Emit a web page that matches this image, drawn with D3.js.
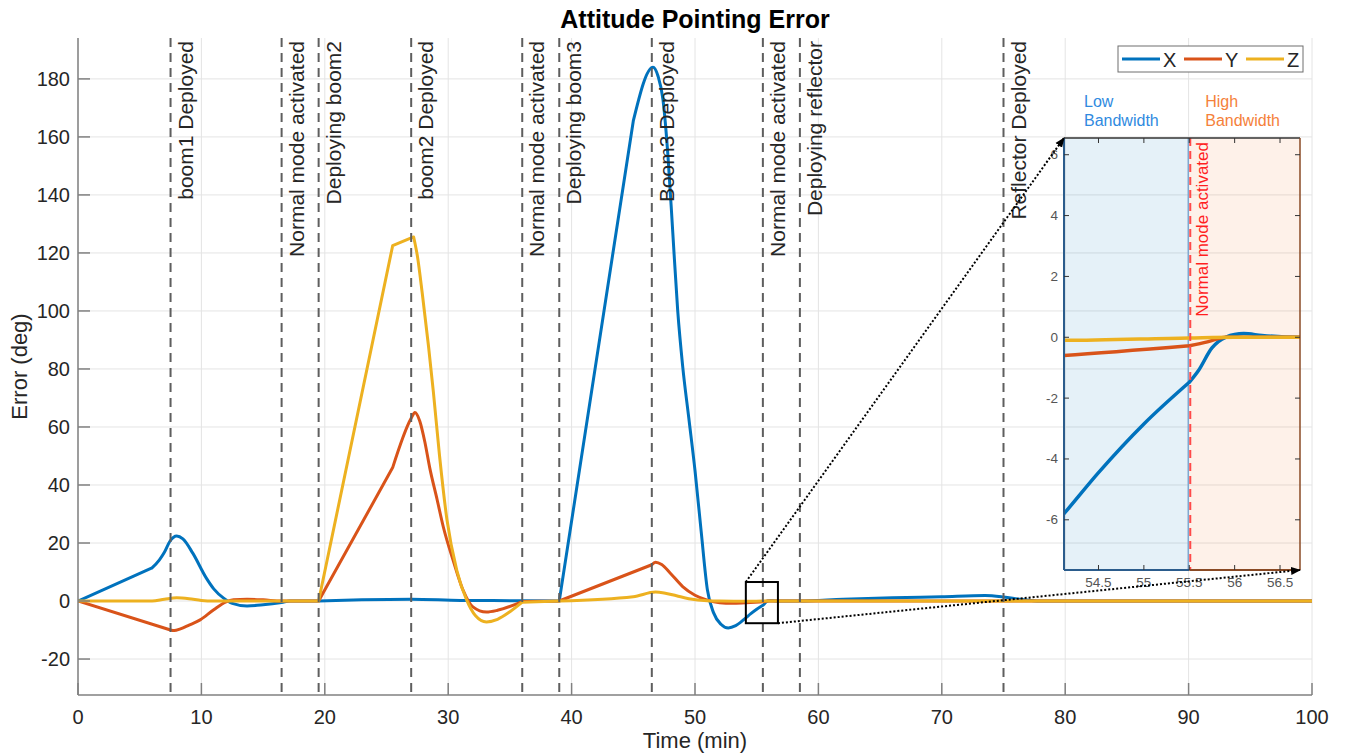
<!DOCTYPE html>
<html><head><meta charset="utf-8">
<script src="https://cdn.jsdelivr.net/npm/d3@7"></script>
<style>body{margin:0;background:#fff} text{font-family:"Liberation Sans",Arial,Helvetica,sans-serif}</style>
</head><body>
<svg id="c" width="1347" height="756"></svg>
<script>
// ---------------- data ----------------
const xTicks = [0,10,20,30,40,50,60,70,80,90,100];
const yTicks = [-20,0,20,40,60,80,100,120,140,160,180];
const xDomain = [0,100];
const yDomain = [-32.4,194.1];
const seriesNames = ["X","Y","Z"];
const seriesColors = ["#0072BD","#D95319","#EDB120"];

const seriesX = [[0,0],[6,11.4],[6.6,14.2],[7,16.8],[7.45,20.6],[8,22.4],[8.5,21.4],[9.3,16.5],[10.4,7.9],[11,4.2],[11.8,1],[12.5,-0.8],[13.7,-1.7],[15,-1.3],[16.5,-0.5],[17.2,0],[19.5,0],[23,0.4],[27,0.6],[31,0.2],[36,0.1],[39,0],[45,165.5],[46.6,184],[47,181],[47.4,173],[47.8,154],[48.2,127],[48.6,100],[49,81],[49.5,63],[50,45],[50.5,24],[51,4],[51.5,-4],[52.1,-8],[52.7,-9.3],[53.3,-8.5],[54.12,-5.8],[54.5,-4.45],[55,-2.85],[55.5,-1.48],[55.6,-1.1],[55.75,-0.35],[55.9,0],[56.1,0.12],[56.3,0.06],[56.7,0],[58.5,0],[62,0.6],[66,1.1],[70,1.5],[73.5,1.9],[75,1.4],[76.5,0.5],[78,0],[100,0]];
const seriesY = [[0,0],[7.5,-10],[7.8,-10.2],[8.3,-9.6],[9,-8.3],[9.9,-6.5],[11,-3],[12,-0.3],[12.6,0.4],[13.7,0.6],[15,0.4],[16.5,0],[19.5,0],[25.5,46],[27,63],[27.3,65],[27.7,62],[28.1,55],[28.5,46],[29.1,35],[29.6,25.6],[30.4,14],[31.2,3.8],[32,-2],[33.1,-3.8],[34,-3.2],[36,-0.2],[39,0],[46.5,12.5],[46.8,13.4],[47.3,12.6],[48,9.6],[49,5],[50,2],[51,0.3],[52,-0.6],[53,-0.8],[54.12,-0.6],[55.5,-0.28],[55.7,-0.15],[55.9,0],[56.7,0],[100,0]];
const seriesZ = [[0,0],[6,0],[7,0.6],[8,1.1],[9,0.8],[10,0.2],[11,0],[19.5,0],[25.5,122.5],[27.2,125.5],[27.5,119],[27.9,106],[28.4,88],[28.8,72],[29.3,50],[29.9,28],[30.7,10.5],[31.5,0.3],[32.2,-5],[33.1,-7.2],[34,-6.3],[35,-3.7],[36,-0.4],[39,0],[45,1.5],[46.8,3.1],[47.5,2.8],[48.5,1.8],[49.5,0.8],[51,0.1],[52,0],[54.12,-0.1],[55.5,-0.02],[56,0],[100,0]];
const allSeries = [seriesX, seriesY, seriesZ];
// times where a series has a sharp kink (segments between them are smoothed)
const cornersX = [6,19.5,39,45,55.5];
const cornersY = [7.5,19.5,25.5,36,39,46.5,55.5];
const cornersZ = [19.5,25.5,27.2,36,39];
const allCorners = [cornersX, cornersY, cornersZ];

const eventTimes = [7.5,16.5,19.5,27,36,39,46.5,55.5,58.5,75];
const eventLabels = ["boom1 Deployed","Normal mode activated","Deploying boom2","boom2 Deployed","Normal mode activated","Deploying boom3","Boom3 Deployed","Normal mode activated","Deploying reflector","Reflector Deployed"];

const insetXDomain = [54.12,56.72];
const insetYDomain = [-7.65,6.55];
const insetXTicks = [54.5,55,55.5,56,56.5];
const insetYTicks = [-6,-4,-2,0,2,4,6];
const splitTime = 55.5;
const splitLabel = "Normal mode activated";
const bandLabels = [["Low","Bandwidth"],["High","Bandwidth"]];

// ---------------- helpers ----------------
function splitAtCorners(s, corners){
  const segs = []; let cur = [];
  s.forEach(p=>{
    cur.push(p);
    if (corners.includes(p[0])) { if (cur.length>1) segs.push(cur); cur=[p]; }
  });
  if (cur.length>1) segs.push(cur);
  return segs;
}
function pathFor(s, corners, xs, ys){
  const ln = d3.line().x(d=>xs(d[0])).y(d=>ys(d[1])).curve(d3.curveMonotoneX);
  return splitAtCorners(s, corners).map(seg=>ln(seg)).join("");
}

// ---------------- layout ----------------
const svg = d3.select("#c");
const P = {l:78, r:1312, t:38, b:695};
const I = {l:1064, r:1300, t:138, b:570};
const x = d3.scaleLinear(xDomain,[P.l,P.r]);
const y = d3.scaleLinear(yDomain,[P.b,P.t]);
const ix = d3.scaleLinear(insetXDomain,[I.l,I.r]);
const iy = d3.scaleLinear(insetYDomain,[I.b,I.t]);

const defs = svg.append("defs");
defs.append("clipPath").attr("id","mainclip").append("rect").attr("x",P.l).attr("y",P.t).attr("width",P.r-P.l).attr("height",P.b-P.t);
defs.append("clipPath").attr("id","insetclip").append("rect").attr("x",I.l).attr("y",I.t).attr("width",I.r-I.l).attr("height",I.b-I.t);
defs.append("marker").attr("id","arr").attr("viewBox","0 0 10 10").attr("refX",9).attr("refY",5)
  .attr("markerWidth",10).attr("markerHeight",10).attr("markerUnits","userSpaceOnUse").attr("orient","auto")
  .append("path").attr("d","M0,1 L10,5 L0,9 Z").attr("fill","#000");

// grid
const grid = svg.append("g").attr("stroke","#e4e4e4").attr("stroke-width",1);
grid.selectAll(".gx").data(xTicks).join("line").attr("x1",d=>x(d)).attr("x2",d=>x(d)).attr("y1",P.t).attr("y2",P.b);
grid.selectAll(".gy").data(yTicks).join("line").attr("y1",d=>y(d)).attr("y2",d=>y(d)).attr("x1",P.l).attr("x2",P.r);

// curves
const gc = svg.append("g").attr("clip-path","url(#mainclip)");
allSeries.forEach((s,i)=>{
  gc.append("path").attr("d",pathFor(s,allCorners[i],x,y)).attr("fill","none").attr("stroke",seriesColors[i])
    .attr("stroke-width",3).attr("stroke-linejoin","round").attr("stroke-linecap","round");
});

// event lines + labels
const ge = svg.append("g");
ge.selectAll("line").data(eventTimes).join("line")
  .attr("x1",d=>x(d)).attr("x2",d=>x(d)).attr("y1",P.t).attr("y2",P.b)
  .attr("stroke","#5e5e5e").attr("stroke-width",2).attr("stroke-dasharray","9,6");
ge.selectAll("text").data(eventTimes).join("text")
  .attr("transform",d=>`translate(${x(d)+22},41) rotate(-90)`)
  .attr("text-anchor","end").attr("font-size",21).attr("fill","#262626")
  .text((d,i)=>eventLabels[i]);

// zoom rectangle
svg.append("rect").attr("x",x(insetXDomain[0])).attr("y",y(insetYDomain[1]))
  .attr("width",x(insetXDomain[1])-x(insetXDomain[0])).attr("height",y(insetYDomain[0])-y(insetYDomain[1]))
  .attr("fill","none").attr("stroke","#000").attr("stroke-width",2);

// ---------------- inset ----------------
const gi = svg.append("g");
gi.append("rect").attr("x",ix(insetXDomain[0])).attr("y",I.t).attr("width",ix(splitTime)-ix(insetXDomain[0])).attr("height",I.b-I.t)
  .attr("fill","rgba(0,114,189,0.10)");
gi.append("rect").attr("x",ix(splitTime)).attr("y",I.t).attr("width",ix(insetXDomain[1])-ix(splitTime)).attr("height",I.b-I.t)
  .attr("fill","rgba(242,120,40,0.10)");
gi.append("line").attr("x1",ix(splitTime)-1).attr("x2",ix(splitTime)-1).attr("y1",I.t).attr("y2",I.b).attr("stroke","#7fa8d0").attr("stroke-width",1.5);

const gic = gi.append("g").attr("clip-path","url(#insetclip)");
allSeries.forEach((s,i)=>{
  gic.append("path").attr("d",pathFor(s,allCorners[i],ix,iy)).attr("fill","none").attr("stroke",seriesColors[i])
    .attr("stroke-width",3.5).attr("stroke-linejoin","round").attr("stroke-linecap","round");
});

gi.append("line").attr("x1",ix(splitTime)+1).attr("x2",ix(splitTime)+1).attr("y1",I.t).attr("y2",I.b)
  .attr("stroke","#ff4a4a").attr("stroke-width",2).attr("stroke-dasharray","8,5");
gi.append("text").attr("transform",`translate(${ix(splitTime)+19},${I.t+4}) rotate(-90)`)
  .attr("text-anchor","end").attr("font-size",17).attr("fill","#ff1f1f").text(splitLabel);

// inset frame
gi.append("line").attr("x1",I.l).attr("x2",I.r).attr("y1",I.t).attr("y2",I.t).attr("stroke","#333").attr("stroke-width",1.5);
gi.append("line").attr("x1",I.l).attr("x2",I.l).attr("y1",I.t).attr("y2",I.b).attr("stroke","#2b5c8c").attr("stroke-width",2);
gi.append("line").attr("x1",I.l).attr("x2",ix(splitTime)).attr("y1",I.b).attr("y2",I.b).attr("stroke","#2b5c8c").attr("stroke-width",2);
gi.append("line").attr("x1",ix(splitTime)).attr("x2",I.r).attr("y1",I.b).attr("y2",I.b).attr("stroke","#8a4a24").attr("stroke-width",2);
gi.append("line").attr("x1",I.r).attr("x2",I.r).attr("y1",I.t).attr("y2",I.b).attr("stroke","#8a4a24").attr("stroke-width",1.5);

// inset ticks
const it = gi.append("g").attr("stroke","#333").attr("stroke-width",1);
it.selectAll(".tb").data(insetXTicks).join("line").attr("x1",d=>ix(d)).attr("x2",d=>ix(d)).attr("y1",I.b).attr("y2",I.b-5);
it.selectAll(".tt").data(insetXTicks).join("line").attr("x1",d=>ix(d)).attr("x2",d=>ix(d)).attr("y1",I.t).attr("y2",I.t+5);
it.selectAll(".tl").data(insetYTicks).join("line").attr("y1",d=>iy(d)).attr("y2",d=>iy(d)).attr("x1",I.l).attr("x2",I.l+5);
it.selectAll(".tr").data(insetYTicks).join("line").attr("y1",d=>iy(d)).attr("y2",d=>iy(d)).attr("x1",I.r).attr("x2",I.r-5);
gi.selectAll(".ixl").data(insetXTicks).join("text").attr("x",d=>ix(d)).attr("y",I.b+17)
  .attr("text-anchor","middle").attr("font-size",13.5).attr("fill","#555").text(d=>d3.format("")(d));
gi.selectAll(".iyl").data(insetYTicks).join("text").attr("x",I.l-6).attr("y",d=>iy(d)+4.5)
  .attr("text-anchor","end").attr("font-size",13.5).attr("fill","#555").text(d=>d<0?"-"+Math.abs(d):d);

// band labels
const bandColors = ["#2f8ae0","#f5813a"];
const bandX = [I.l+20, ix(splitTime)+16];
bandLabels.forEach((lines,i)=>{
  const t = svg.append("text").attr("font-size",16).attr("fill",bandColors[i]);
  lines.forEach((l,j)=>t.append("tspan").attr("x",bandX[i]).attr("y",107+j*19).text(l));
});

// arrows
const ga = svg.append("g").attr("stroke","#000").attr("stroke-width",2).attr("stroke-dasharray","2,2").attr("fill","none");
ga.append("line").attr("x1",x(insetXDomain[0])).attr("y1",y(insetYDomain[1])).attr("x2",ix(insetXDomain[0])).attr("y2",iy(insetYDomain[1])).attr("marker-end","url(#arr)");
ga.append("line").attr("x1",x(insetXDomain[1])).attr("y1",y(insetYDomain[0])).attr("x2",ix(insetXDomain[1])).attr("y2",iy(insetYDomain[0])).attr("marker-end","url(#arr)");

// ---------------- axes ----------------
const ax = svg.append("g");
ax.append("line").attr("x1",P.l).attr("x2",P.l).attr("y1",P.t).attr("y2",P.b).attr("stroke","#808080").attr("stroke-width",1.5);
ax.append("line").attr("x1",P.l).attr("x2",P.r).attr("y1",P.b).attr("y2",P.b).attr("stroke","#808080").attr("stroke-width",1.5);
ax.selectAll(".yt").data(yTicks).join("line").attr("x1",P.l).attr("x2",P.l+12).attr("y1",d=>y(d)).attr("y2",d=>y(d)).attr("stroke","#808080").attr("stroke-width",1.5);
ax.selectAll(".xt").data(xTicks).join("line").attr("y1",P.b).attr("y2",P.b-12).attr("x1",d=>x(d)).attr("x2",d=>x(d)).attr("stroke","#808080").attr("stroke-width",1.5);
ax.selectAll(".yl").data(yTicks).join("text").attr("x",P.l-8).attr("y",d=>y(d)+7)
  .attr("text-anchor","end").attr("font-size",20).attr("fill","#262626").text(d=>d<0?"-"+Math.abs(d):d);
ax.selectAll(".xl").data(xTicks).join("text").attr("x",d=>x(d)).attr("y",P.b+29)
  .attr("text-anchor","middle").attr("font-size",20).attr("fill","#262626").text(d=>d);
svg.append("text").attr("x",(P.l+P.r)/2).attr("y",748).attr("text-anchor","middle").attr("font-size",22).attr("fill","#262626").text("Time (min)");
svg.append("text").attr("transform",`translate(27,${(P.t+P.b)/2}) rotate(-90)`).attr("text-anchor","middle").attr("font-size",22).attr("fill","#262626").text("Error (deg)");
svg.append("text").attr("x",(P.l+P.r)/2).attr("y",28).attr("text-anchor","middle").attr("font-size",25).attr("font-weight","bold").attr("fill","#000").text("Attitude Pointing Error");

// legend
const lg = svg.append("g");
lg.append("rect").attr("x",1118).attr("y",46).attr("width",185).attr("height",26).attr("fill","#fff").attr("stroke","#6e6e6e").attr("stroke-width",1);
seriesNames.forEach((n,i)=>{
  const x0 = 1122 + i*62;
  lg.append("line").attr("x1",x0).attr("x2",x0+38).attr("y1",59).attr("y2",59).attr("stroke",seriesColors[i]).attr("stroke-width",3);
  lg.append("text").attr("x",x0+41).attr("y",66.5).attr("font-size",20).attr("fill","#262626").text(n);
});
</script>
</body></html>
